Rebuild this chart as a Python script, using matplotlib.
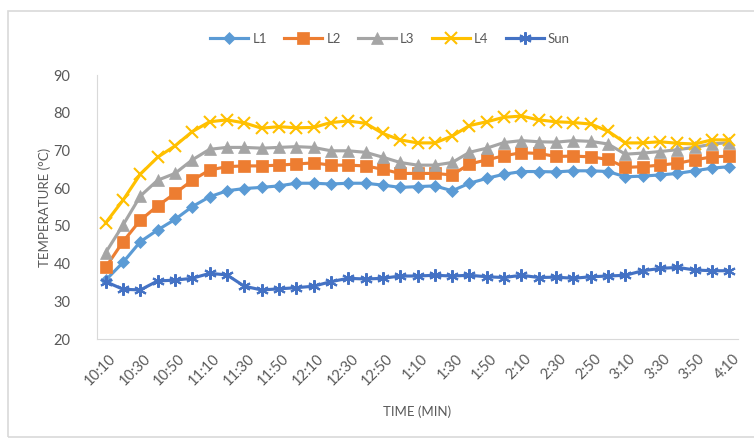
import matplotlib.pyplot as plt
from matplotlib.patches import Rectangle
from matplotlib.transforms import ScaledTranslation

# time stamps every 10 minutes, label shown every other point
times = ["10:10", "10:20", "10:30", "10:40", "10:50", "11:00", "11:10", "11:20", "11:30",
         "11:40", "11:50", "12:00", "12:10", "12:20", "12:30", "12:40", "12:50", "1:00",
         "1:10", "1:20", "1:30", "1:40", "1:50", "2:00", "2:10", "2:20", "2:30", "2:40",
         "2:50", "3:00", "3:10", "3:20", "3:30", "3:40", "3:50", "4:00", "4:10"]

L1 = [35.6, 40.3, 45.8, 48.9, 51.7, 55.1, 57.7, 59.3, 59.9, 60.2, 60.6, 61.3, 61.3,
      61.1, 61.3, 61.3, 60.8, 60.2, 60.4, 60.6, 59.3, 61.3, 62.6, 63.7, 64.4, 64.4,
      64.3, 64.6, 64.6, 64.4, 63.0, 63.2, 63.5, 63.9, 64.6, 65.3, 65.7]
L2 = [39.0, 45.8, 51.5, 55.3, 58.6, 62.1, 64.8, 65.7, 65.9, 65.9, 66.1, 66.4, 66.7,
      66.1, 66.1, 65.9, 65.0, 63.9, 63.9, 63.9, 63.5, 66.4, 67.5, 68.6, 69.4, 69.2,
      68.4, 68.5, 68.3, 67.6, 65.5, 65.7, 66.1, 66.6, 67.5, 68.3, 68.5]
L3 = [42.9, 50.2, 57.9, 62.1, 63.9, 67.5, 70.3, 70.8, 70.8, 70.6, 70.8, 71.0, 70.8,
      69.9, 69.9, 69.5, 68.2, 66.8, 66.1, 66.1, 66.8, 69.5, 70.6, 72.1, 72.6, 72.3,
      72.2, 72.6, 72.4, 71.7, 69.0, 69.3, 69.7, 70.2, 70.8, 71.7, 72.1]
L4 = [50.8, 56.8, 63.7, 68.2, 71.2, 75.0, 77.6, 78.1, 77.3, 75.9, 76.3, 76.0, 76.1,
      77.4, 77.8, 77.2, 74.5, 72.8, 72.0, 72.0, 73.8, 76.6, 77.6, 78.8, 79.1, 78.1,
      77.6, 77.4, 77.0, 75.1, 72.0, 72.0, 72.3, 71.9, 71.7, 72.8, 72.8]
Sun = [35.2, 33.2, 33.0, 35.4, 35.6, 36.1, 37.4, 37.0, 34.0, 33.0, 33.3, 33.6, 34.0,
       35.2, 36.1, 35.9, 36.1, 36.7, 36.7, 36.9, 36.7, 36.9, 36.5, 36.3, 36.9, 36.3,
       36.4, 36.1, 36.5, 36.7, 36.9, 38.1, 38.7, 39.0, 38.3, 38.1, 38.1]

series = [("L1", L1, "#5B9BD5", "D", 6.5),
          ("L2", L2, "#ED7D31", "s", 9),
          ("L3", L3, "#A5A5A5", "^", 9),
          ("L4", L4, "#FFC000", "x", 8.5),
          ("Sun", Sun, "#4472C4", (6, 2, 0), 9)]

plt.rcParams['font.family'] = ['Lato', 'DejaVu Sans']
grey = "#595959"

fig = plt.figure(figsize=(7.54, 4.4), dpi=100)
fig.patches.append(Rectangle((8 / 754, 3 / 440), 1.0, 426 / 440, transform=fig.transFigure,
                             fill=False, edgecolor="#D9D9D9", linewidth=1.2))
ax = fig.add_axes([97 / 754, 1 - 339 / 440, (738 - 97) / 754, (339 - 75) / 440])

x = list(range(len(times)))
for name, vals, col, mk, ms in series:
    ax.plot(x, vals, color=col, linewidth=2.25, marker=mk, markersize=ms,
            markeredgewidth=1.5 if mk in ("x", (6, 2, 0)) else 0.5,
            markeredgecolor=col, markerfacecolor=col, label=name)

ax.set_xlim(-0.5, len(times) - 0.5)
ax.set_ylim(20, 90)
ax.set_yticks(range(20, 91, 10))
ax.set_xticks(x[::2])
ax.set_xticklabels(times[::2], rotation=45, ha="right", rotation_mode="anchor")
ax.tick_params(axis="y", length=0, colors=grey, labelsize=10.5, pad=19)
ax.tick_params(axis="x", length=0, colors=grey, labelsize=10.5, pad=9)
shift = ScaledTranslation(3 / 100, 0, fig.dpi_scale_trans)
for lab in ax.get_xticklabels():
    lab.set_transform(lab.get_transform() + shift)

for s in ("top", "right"):
    ax.spines[s].set_visible(False)
for s in ("left", "bottom"):
    ax.spines[s].set_color("#D9D9D9")

ax.set_ylabel("TEMPERATURE (°C)", color=grey, fontsize=9.5)
ax.yaxis.set_label_coords(-0.072, 0.5)
ax.set_xlabel("TIME (MIN)", color=grey, fontsize=9.5)
ax.xaxis.set_label_coords(0.5, -0.252)

leg = fig.legend(loc="center", bbox_to_anchor=(390 / 754, 1 - 39 / 440), ncol=5,
                 frameon=False, fontsize=9.5, handlelength=2.9, columnspacing=1.3,
                 handletextpad=0.3)
for t in leg.get_texts():
    t.set_color(grey)

fig.savefig("out.png", dpi=100)
